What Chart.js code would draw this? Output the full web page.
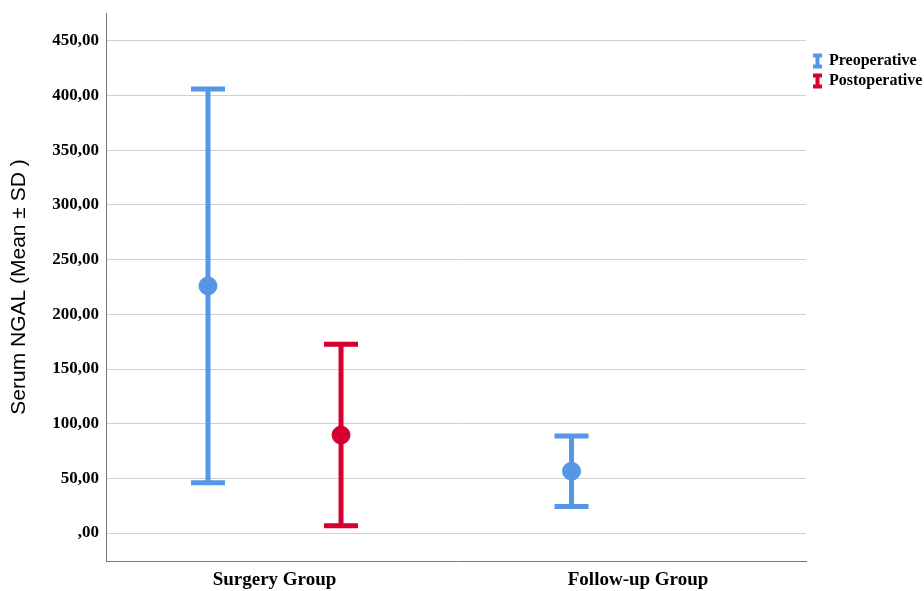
<!DOCTYPE html>
<html>
<head>
<meta charset="utf-8">
<script src="https://cdn.jsdelivr.net/npm/chart.js@4/dist/chart.umd.min.js"></script>
<style>
  body { margin: 0; background: #fff; }
  #wrap { width: 924px; height: 591px; }
</style>
</head>
<body>
<div id="wrap"><canvas id="chart" width="924" height="591"></canvas></div>
<script>
// values
const categories = ['Surgery Group', 'Follow-up Group'];
const seriesNames = ['Preoperative', 'Postoperative'];
const preMean = [226, 56.5];
const preSD = [180, 32.3];
const postMean = [89.6, null];
const postSD = [83, null];
const yTickValues = [0, 50, 100, 150, 200, 250, 300, 350, 400, 450];

const BLUE = '#5596e6';
const RED = '#d5002f';
const groupOffset = 0.183;
const serif = "'Liberation Serif', 'Times New Roman', serif";

function toPoints(means, sds, shift) {
    const pts = [];
    means.forEach((m, i) => {
        if (m !== null) pts.push({ x: i + shift, y: m, sd: sds[i] });
    });
    return pts;
}

// draws mean ± SD whiskers with caps behind the dots
const errorBars = {
    id: 'errorBars',
    beforeDatasetsDraw(chart) {
        const ctx = chart.ctx;
        const xs = chart.scales.x, ys = chart.scales.y;
        chart.data.datasets.forEach(ds => {
            ctx.save();
            ctx.strokeStyle = ds.backgroundColor;
            ctx.lineWidth = 5;
            ds.data.forEach(p => {
                const x = xs.getPixelForValue(p.x);
                const yTop = ys.getPixelForValue(p.y + p.sd);
                const yBot = ys.getPixelForValue(p.y - p.sd);
                ctx.beginPath();
                ctx.moveTo(x, yTop);
                ctx.lineTo(x, yBot);
                ctx.moveTo(x - 17, yTop);
                ctx.lineTo(x + 17, yTop);
                ctx.moveTo(x - 17, yBot);
                ctx.lineTo(x + 17, yBot);
                ctx.stroke();
            });
            ctx.restore();
        });
    }
};

// SPSS style legend at the right with small whisker icons
const sideLegend = {
    id: 'sideLegend',
    afterDraw(chart) {
        const ctx = chart.ctx;
        const left = chart.chartArea.right + 7;
        chart.data.datasets.forEach((ds, i) => {
            const cy = 61 + i * 20;
            ctx.save();
            ctx.fillStyle = ds.backgroundColor;
            ctx.fillRect(left, cy - 7.5, 9, 4);
            ctx.fillRect(left + 2.5, cy - 5, 4, 10);
            ctx.fillRect(left, cy + 3.5, 9, 4);
            ctx.fillStyle = '#000';
            ctx.font = "bold 16px " + serif;
            ctx.textBaseline = 'middle';
            ctx.fillText(ds.label, left + 16, cy);
            ctx.restore();
        });
    }
};

const ctx = document.getElementById('chart').getContext('2d');
new Chart(ctx, {
    type: 'scatter',
    data: {
        datasets: [
            { label: seriesNames[0], data: toPoints(preMean, preSD, -groupOffset),
              backgroundColor: BLUE, borderColor: BLUE, pointRadius: 9, pointHoverRadius: 9 },
            { label: seriesNames[1], data: toPoints(postMean, postSD, groupOffset),
              backgroundColor: RED, borderColor: RED, pointRadius: 9, pointHoverRadius: 9 }
        ]
    },
    options: {
        responsive: false,
        animation: false,
        layout: { padding: { top: 13, right: 118, left: 0, bottom: 0 } },
        plugins: { legend: { display: false }, tooltip: { enabled: false } },
        scales: {
            x: {
                type: 'linear',
                min: -0.4635,
                max: 1.462,
                afterBuildTicks: s => { s.ticks = categories.map((c, i) => ({ value: i })); },
                afterFit: s => { s.height = 30; s.paddingLeft = 0; s.paddingRight = 0; },
                grid: { display: false, drawTicks: false },
                border: { color: '#777', width: 1 },
                ticks: {
                    callback: v => categories[v],
                    color: '#000',
                    padding: 8,
                    maxRotation: 0,
                    font: { family: serif, size: 19, weight: 'bold' }
                }
            },
            y: {
                min: -25.6,
                max: 475.6,
                afterBuildTicks: s => { s.ticks = yTickValues.map(v => ({ value: v })); },
                afterFit: s => { s.width = 106; s.paddingTop = 0; s.paddingBottom = 0; },
                grid: { color: '#d0d0d0', lineWidth: 1, drawTicks: false },
                border: { color: '#777', width: 1 },
                ticks: {
                    callback: v => v === 0 ? ',00' : v.toFixed(2).replace('.', ','),
                    color: '#000',
                    padding: 7,
                    font: { family: serif, size: 17, weight: 'bold' }
                },
                title: {
                    display: true,
                    text: 'Serum NGAL (Mean ± SD )',
                    color: '#000',
                    padding: { top: 7, bottom: 0 },
                    font: { family: "'Liberation Sans', Arial, sans-serif", size: 21 }
                }
            }
        }
    },
    plugins: [errorBars, sideLegend]
});
</script>
</body>
</html>
